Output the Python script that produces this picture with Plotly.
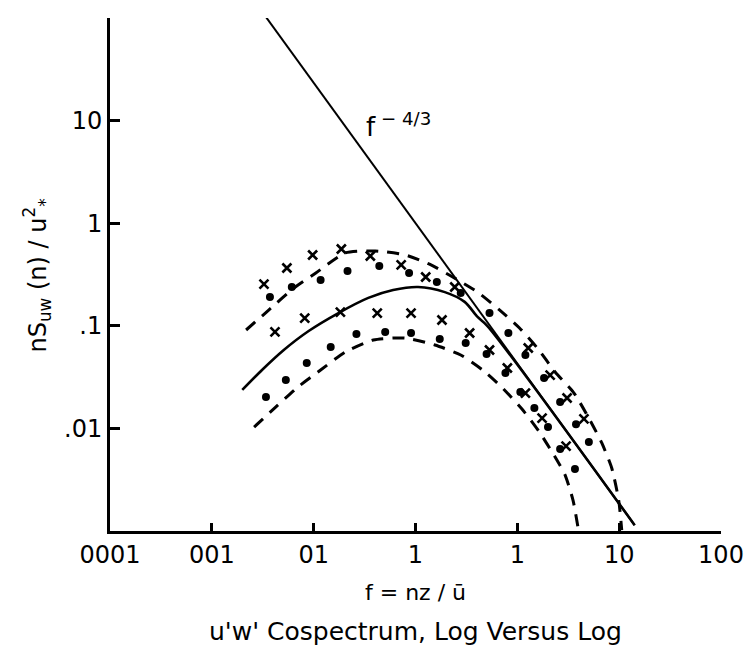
import math
import plotly.graph_objects as go

# Mean cospectrum curve (solid) and the two bounding envelopes (dashed)
f_mean = [0.00199, 0.00311, 0.00509, 0.00893, 0.0175, 0.0344, 0.0603, 0.106,
          0.194, 0.304, 0.407, 0.509, 14.2]
s_mean = [0.0237, 0.0371, 0.0581, 0.0889, 0.133, 0.187, 0.223, 0.239,
          0.213, 0.171, 0.122, 0.0995, 0.00114]

f_upper = [0.00217, 0.00364, 0.00638, 0.0105, 0.0205, 0.0403, 0.0791, 0.142,
           0.232, 0.407, 0.667, 1.05, 1.57, 2.35, 3.60, 5.15, 6.75, 8.45,
           9.89, 10.6]
s_upper = [0.0910, 0.143, 0.233, 0.327, 0.513, 0.536, 0.490, 0.392,
           0.299, 0.213, 0.143, 0.0953, 0.0608, 0.0355, 0.0221, 0.0121,
           0.00721, 0.00411, 0.00200, 0.00102]

f_lower = [0.00260, 0.00426, 0.00682, 0.0117, 0.0205, 0.0385, 0.0791, 0.155,
           0.278, 0.456, 0.714, 1.17, 1.67, 2.35, 2.94, 3.52, 3.94]
s_lower = [0.0103, 0.0162, 0.0248, 0.0371, 0.0556, 0.0728, 0.0760, 0.0650,
           0.0519, 0.0371, 0.0248, 0.0145, 0.00902, 0.00526, 0.00352,
           0.00200, 0.00109]

# Inertial subrange slope, f^-4/3
f_line = [0.00318, 14.2]
s_line = [112.0, 0.00114]

# Observed cospectral estimates: crosses and dots
f_cross = [0.00325, 0.00546, 0.00977, 0.0187, 0.0360, 0.0723, 0.126, 0.243,
           1.28, 2.10, 3.08, 4.51,
           0.00417, 0.00817, 0.0183, 0.0421, 0.0904, 0.182, 0.340, 0.533,
           0.798, 1.20, 1.75, 3.01]
s_cross = [0.255, 0.366, 0.490, 0.561, 0.479, 0.392, 0.299, 0.239,
           0.0608, 0.0331, 0.0198, 0.0124,
           0.0871, 0.119, 0.136, 0.133, 0.133, 0.114, 0.0851, 0.0581,
           0.0388, 0.0221, 0.0126, 0.00673]

f_dot = [0.00372, 0.00610, 0.0117, 0.0215, 0.0441, 0.0865, 0.162, 0.278,
         0.533, 0.817, 1.20, 1.83, 2.63, 3.77, 5.04,
         0.00340, 0.00533, 0.00855, 0.0147, 0.0263, 0.0504, 0.0904, 0.173,
         0.311, 0.499, 0.764, 1.07, 1.47, 2.00, 2.63, 3.68]
s_dot = [0.191, 0.239, 0.279, 0.342, 0.383, 0.327, 0.267, 0.209,
         0.133, 0.0851, 0.0519, 0.0310, 0.0181, 0.0110, 0.00737,
         0.0202, 0.0296, 0.0434, 0.0621, 0.0832, 0.0871, 0.0851, 0.0743,
         0.0679, 0.0531, 0.0347, 0.0226, 0.0158, 0.0103, 0.00630, 0.00402]

x_tickvals = [0.0001, 0.001, 0.01, 0.1, 1, 10, 100]
x_ticktext = ["0001", "001", "01", "1", "1", "10", "100"]
y_tickvals = [0.01, 0.1, 1, 10]
y_ticktext = [".01", ".1", "1", "10"]

FONT = "DejaVu Sans"
INK = "black"

# plot-area geometry (pixels) used to place the free-standing labels
W, H = 756, 658
ML, MR, MT, MB = 110, 31, 18, 127
PW, PH = W - ML - MR, H - MT - MB

fig = go.Figure()

fig.add_trace(go.Scatter(x=f_line, y=s_line, mode="lines",
                         line=dict(color=INK, width=2)))
fig.add_trace(go.Scatter(x=f_mean, y=s_mean, mode="lines",
                         line=dict(color=INK, width=2.6, shape="spline", smoothing=0.8)))
fig.add_trace(go.Scatter(x=f_upper, y=s_upper, mode="lines",
                         line=dict(color=INK, width=3, dash="12px,9px",
                                   shape="spline", smoothing=0.6)))
fig.add_trace(go.Scatter(x=f_lower, y=s_lower, mode="lines",
                         line=dict(color=INK, width=3, dash="12px,9px",
                                   shape="spline", smoothing=0.6)))
fig.add_trace(go.Scatter(x=f_cross, y=s_cross, mode="markers",
                         marker=dict(symbol="x-thin", size=9,
                                     line=dict(color=INK, width=2.6))))
fig.add_trace(go.Scatter(x=f_dot, y=s_dot, mode="markers",
                         marker=dict(symbol="circle", size=8, color=INK)))

fig.update_xaxes(type="log", range=[-4, 2], tickvals=x_tickvals, ticktext=x_ticktext,
                 ticks="inside", ticklen=8, tickwidth=2.5, tickcolor=INK,
                 showline=True, linecolor=INK, linewidth=3, showgrid=False,
                 zeroline=False, tickfont=dict(family=FONT, size=24, color=INK))
fig.update_yaxes(type="log", range=[-3, 2], tickvals=y_tickvals, ticktext=y_ticktext,
                 ticks="inside", ticklen=10, tickwidth=2.5, tickcolor=INK,
                 showline=True, linecolor=INK, linewidth=3, showgrid=False,
                 zeroline=False, tickfont=dict(family=FONT, size=24, color=INK))

fig.add_annotation(x=math.log10(0.031), y=math.log10(9.0), xref="x", yref="y",
                   text="f<sup> − 4/3</sup>", showarrow=False, xanchor="left",
                   font=dict(family=FONT, size=26, color=INK))
fig.add_annotation(x=(36 - ML) / PW, y=(H - MB - 275) / PH, xref="paper", yref="paper",
                   xanchor="center", yanchor="middle",
                   text="nS<sub>uw</sub> (n) / u<sup>2</sup><sub>*</sub>",
                   showarrow=False, textangle=-90,
                   font=dict(family=FONT, size=24, color=INK))
fig.add_annotation(x=0.5, y=0, xref="paper", yref="paper", yanchor="top", yshift=-47,
                   text="f = nz / ū", showarrow=False,
                   font=dict(family=FONT, size=22, color=INK))
fig.add_annotation(x=0.5, y=0, xref="paper", yref="paper", yanchor="top", yshift=-84,
                   text="u'w' Cospectrum, Log Versus Log", showarrow=False,
                   font=dict(family=FONT, size=25, color=INK))

fig.update_layout(width=W, height=H, margin=dict(l=ML, r=MR, t=MT, b=MB),
                  paper_bgcolor="white", plot_bgcolor="white", showlegend=False)

fig.write_html("out.html")
